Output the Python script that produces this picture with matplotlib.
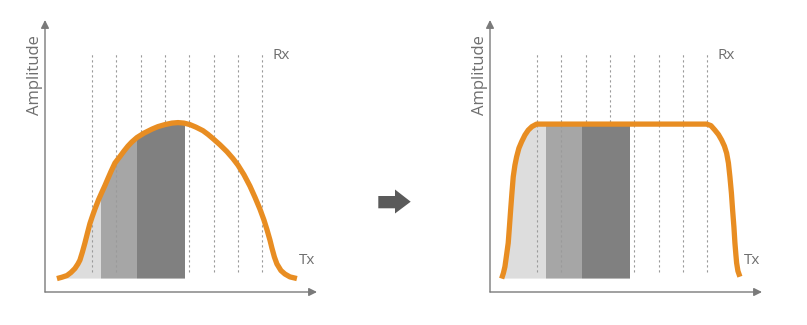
import matplotlib.pyplot as plt
from matplotlib.patches import Polygon

# receive windows sit on integer slot positions
rx_slots = [1, 2, 3, 4, 5, 6, 7, 8]

# bell-shaped pulse (x in slots, amplitude relative to the flat top)
bell_x = [-0.440, -0.234, -0.029, 0.136, 0.300, 0.423, 0.506, 0.608, 0.711,
          0.814, 0.917, 1.019, 1.122, 1.266, 1.410, 1.533, 1.657, 1.780,
          1.944, 2.150, 2.314, 2.479, 2.643, 2.849, 3.136, 3.465, 3.712,
          3.999, 4.287, 4.534, 4.780, 5.027, 5.273, 5.561, 5.767, 5.972,
          6.260, 6.548, 6.794, 7.000, 7.246, 7.493, 7.698, 7.904, 8.069,
          8.192, 8.315, 8.397, 8.500, 8.603, 8.767, 8.932, 9.137, 9.425]
bell_y = [0.080, 0.088, 0.098, 0.116, 0.140, 0.167, 0.190, 0.238, 0.292,
          0.351, 0.408, 0.452, 0.494, 0.548, 0.595, 0.634, 0.676, 0.717,
          0.768, 0.807, 0.839, 0.869, 0.894, 0.920, 0.946, 0.970, 0.985,
          0.997, 1.006, 1.009, 1.006, 0.997, 0.982, 0.961, 0.939, 0.914,
          0.877, 0.836, 0.795, 0.756, 0.699, 0.631, 0.565, 0.494, 0.429,
          0.372, 0.310, 0.262, 0.208, 0.167, 0.128, 0.107, 0.090, 0.080]

# flat-top pulse
flat_x = [-0.452, -0.378, -0.316, -0.255, -0.181, -0.132, -0.082, -0.029,
          0.025, 0.095, 0.164, 0.259, 0.370, 0.506, 0.641, 0.793, 0.986,
          7.974, 8.151, 8.315, 8.459, 8.590, 8.705, 8.796, 8.870, 8.931,
          8.993, 9.042, 9.096, 9.137, 9.178, 9.207, 9.260, 9.342]
flat_y = [0.080, 0.113, 0.151, 0.214, 0.292, 0.387, 0.488, 0.589,
          0.686, 0.756, 0.805, 0.857, 0.895, 0.935, 0.964, 0.985, 1.000,
          1.000, 0.991, 0.964, 0.938, 0.905, 0.869, 0.827, 0.768, 0.686,
          0.589, 0.488, 0.387, 0.292, 0.220, 0.173, 0.125, 0.091]

# shaded bands under the pulse
band_edges = [-0.6, 1.37, 2.84, 4.81]
band_colors = ['#dddddd', '#a6a6a6', '#808080']
baseline = 0.08

ORANGE = '#e88d22'
AXIS_GREY = '#7a7a7a'
TEXT_GREY = '#6f6f6f'
FONT = ['Open Sans', 'DejaVu Sans']

W, H = 807, 325
fig = plt.figure(figsize=(W / 100, H / 100), dpi=100)
fig.patch.set_facecolor('white')

XLIM = (-0.93, 10.25)
YLIM = (0, 1.62)


def draw_panel(left_px, xs, ys):
    ax = fig.add_axes([left_px / W, (H - 292) / H, 272 / W, 272 / H])
    ax.set_xlim(*XLIM)
    ax.set_ylim(*YLIM)
    ax.axis('off')

    # area under the pulse, used to clip the bands
    verts = list(zip(xs, ys)) + [(xs[-1], baseline), (xs[0], baseline)]
    under = Polygon(verts, closed=True, transform=ax.transData)

    lefts = band_edges[:-1]
    widths = [b - a for a, b in zip(band_edges[:-1], band_edges[1:])]
    bars = ax.bar(lefts, [1.2] * len(lefts), width=widths, bottom=baseline,
                  align='edge', color=band_colors, linewidth=0)
    for i, b in enumerate(bars):
        b.set_clip_path(under)
        b.set_zorder(3 if i == 2 else 1)

    ax.vlines(rx_slots, 0.121, 1.43, colors='#9a9a9a', linewidth=0.8,
              linestyles=(0, (2, 2.5)), zorder=2)

    ax.plot(xs, ys, color=ORANGE, linewidth=3.8, solid_capstyle='butt',
            solid_joinstyle='round', zorder=5)

    # axes with arrow heads
    arrow = dict(arrowstyle='-|>', mutation_scale=12, color=AXIS_GREY,
                 linewidth=1.0, shrinkA=0, shrinkB=0)
    ax.annotate('', xy=(XLIM[1], 0), xytext=(XLIM[0], 0), arrowprops=arrow,
                annotation_clip=False)
    ax.annotate('', xy=(XLIM[0], YLIM[1]), xytext=(XLIM[0], 0),
                arrowprops=arrow, annotation_clip=False)

    ax.text(XLIM[0] - 0.42, 1.29, 'Amplitude', rotation=90, ha='center',
            va='center', fontsize=12, color=TEXT_GREY, family=FONT)
    ax.text(8.44, 1.41, 'Rx', ha='left', va='center', fontsize=11,
            color=TEXT_GREY, family=FONT)
    ax.text(9.5, 0.19, 'Tx', ha='left', va='center', fontsize=11,
            color=TEXT_GREY, family=FONT)
    return ax


draw_panel(45, bell_x, bell_y)
draw_panel(490, flat_x, flat_y)

# transition arrow between the two panels (pixel space overlay)
over = fig.add_axes([0, 0, 1, 1], zorder=-1)
over.set_xlim(0, W)
over.set_ylim(H, 0)
over.axis('off')
over.add_patch(Polygon([(378.3, 196), (395, 196), (395, 189.5), (410.7, 201.7),
                        (395, 213.5), (395, 208.3), (378.3, 208.3)],
                       closed=True, facecolor='#5a5a5a', edgecolor='none'))

fig.savefig('out.png', dpi=100, facecolor='white')
